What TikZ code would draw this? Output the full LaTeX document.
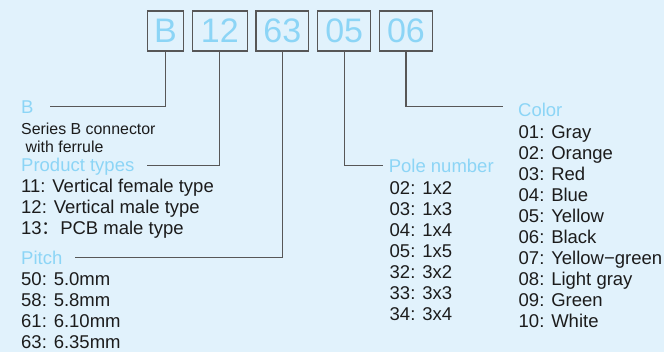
\documentclass[tikz,border=0pt]{standalone}
\usepackage{fontspec}
\setmainfont{Liberation Sans}
\newfontfamily\cjk{Noto Sans CJK SC}
\begin{document}
\begin{tikzpicture}[x=1pt,y=-1pt]
  \definecolor{bgblue}{HTML}{E1F2FC}
  \definecolor{codeblue}{HTML}{8CD5F6}
  \definecolor{linegray}{HTML}{575757}
  \definecolor{textgray}{HTML}{1C1C1C}
  \tikzset{
    codebox/.style={draw=linegray,line width=1.3pt,inner sep=0pt,minimum height=40pt,
      text=codeblue,font=\fontsize{34}{34}\selectfont},
    head/.style={anchor=base west,inner sep=0pt,text=codeblue,font=\fontsize{18.5}{21}\selectfont},
    item/.style={anchor=base west,inner sep=0pt,text=textgray,font=\fontsize{18.5}{21}\selectfont},
    note/.style={anchor=base west,inner sep=0pt,text=textgray,font=\fontsize{15.9}{18}\selectfont},
    leader/.style={draw=linegray,line width=1.2pt},
  }
  \fill[bgblue] (0,0) rectangle (664,352);
  \useasboundingbox (0,0) rectangle (664,352);
  \node[codebox,minimum width=36.4pt] (bB) at (165.5,31) {B};
  \node[codebox,minimum width=55pt] (b12) at (219.8,31) {12};
  \node[codebox,minimum width=52.7pt] (b63) at (282.3,31) {63};
  \node[codebox,minimum width=53pt] (b05) at (344.2,31) {05};
  \node[codebox,minimum width=53.4pt] (b06) at (406,31) {06};
  \node[head] (hB) at (21,114) {B};
  \node[note] (sB1) at (21,134.3) {Series B connector};
  \node[note] (sB2) at (25.5,152.3) {with ferrule};
  \node[head] (h12) at (21,171.5) {Product types};
  \foreach \t [count=\i] in {11: Vertical female type, 12: Vertical male type, 13{\cjk ：}PCB male type} {
    \node[item] (type\i) at (21,{171.5+21*\i}) {\t};
  }
  \node[head] (h63) at (21,265) {Pitch};
  \foreach \t [count=\i] in {50: 5.0mm, 58: 5.8mm, 61: 6.10mm, 63: 6.35mm} {
    \node[item] (pitch\i) at (21,{265+21*\i}) {\t};
  }
  \node[head] (h05) at (388.6,172.3) {Pole number};
  \foreach \t [count=\i] in {02: 1x2, 03: 1x3, 04: 1x4, 05: 1x5, 32: 3x2, 33: 3x3, 34: 3x4} {
    \node[item] (pole\i) at (389.5,{173.3+21*\i}) {\t};
  }
  \node[head] (h06) at (518,116.7) {Color};
  \foreach \t [count=\i] in {01: Gray, 02: Orange, 03: Red, 04: Blue, 05: Yellow, 06: Black,
      07: Yellow−green, 08: Light gray, 09: Green, 10: White} {
    \node[item] (color\i) at (518.5,{117.3+21*\i}) {\t};
  }
  \coordinate (eB) at (50,106.7);
  \coordinate (e12) at (146.7,165.3);
  \coordinate (e63) at (75,257.3);
  \coordinate (e05) at (383.3,165.7);
  \coordinate (e06) at (503,106.7);
  \draw[leader] (bB.south) |- (eB);
  \draw[leader] (b12.south) |- (e12);
  \draw[leader] (b63.south) |- (e63);
  \draw[leader] (b05.south) |- (e05);
  \draw[leader] (b06.south) |- (e06);
\end{tikzpicture}
\end{document}
